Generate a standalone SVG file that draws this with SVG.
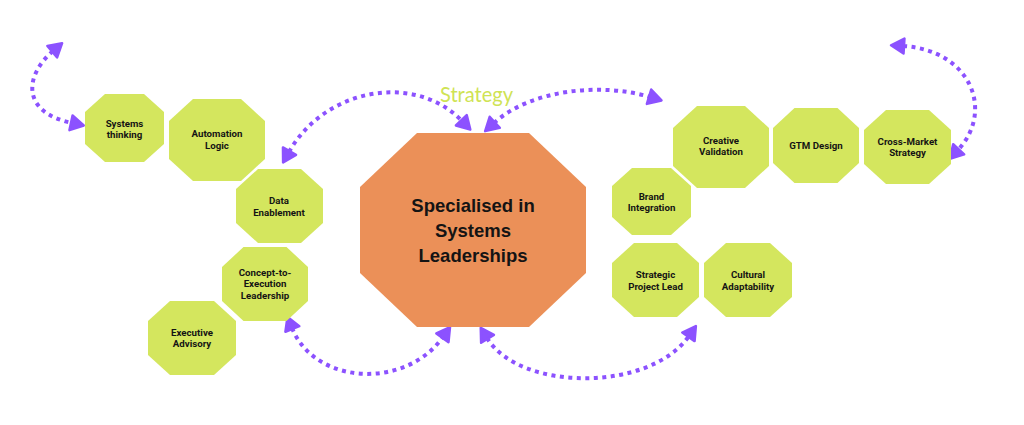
<svg xmlns="http://www.w3.org/2000/svg" width="1024" height="425" viewBox="0 0 1024 425">
  <style>
    .oct { fill: #d4e65e; }
    .core { fill: #eb9058; }
    .lbl { font-family: Roboto, "Liberation Sans", Arial, sans-serif; font-weight: bold; font-size: 9.7px; fill: #141414; text-anchor: middle; }
    .big { font-family: "Liberation Sans", Arial, sans-serif; font-weight: bold; font-size: 18.5px; fill: #141414; text-anchor: middle; }
    .title { font-family: "Lato", "Open Sans", sans-serif; font-weight: 400; font-size: 21px; fill: #cfe354; }
    .link { fill: none; stroke: #8c52ff; stroke-width: 4; stroke-dasharray: 4 4.5; marker-start: url(#ah); marker-end: url(#ah); }
  </style>
  <defs>
    <marker id="ah" viewBox="-2 -2 18 19" refX="1" refY="7.5" markerWidth="18" markerHeight="19" markerUnits="userSpaceOnUse" orient="auto-start-reverse">
      <path d="M0,0 L13,7.5 L0,15 Z" fill="#8c52ff" stroke="#8c52ff" stroke-width="2.5" stroke-linejoin="round"/>
    </marker>
  </defs>
  <rect width="1024" height="425" fill="#ffffff"/>

  <g id="connectors">
    <path class="link" d="M53,51 C25,75 20,112 72,123"/>
    <path class="link" d="M289,152 C325,88 415,72 462,121"/>
    <path class="link" d="M494,123 C530,90 600,82 650,97"/>
    <path class="link" d="M903,46 C970,50 995,110 958,150"/>
    <path class="link" d="M292,328 C315,385 405,390 443,337"/>
    <path class="link" d="M487,338 C520,392 650,392 689,336"/>
  </g>

  <text id="strategy" class="title" x="440" y="102" textLength="73" lengthAdjust="spacingAndGlyphs">Strategy</text>

  <g id="systems-thinking">
    <polygon class="oct" points="105,94 144,94 164,112 164,144 144,162 105,162 85,144 85,112"/>
    <text class="lbl" x="124.5" y="126.5">Systems</text>
    <text class="lbl" x="124.5" y="137.5">thinking</text>
  </g>
  <g id="automation-logic">
    <polygon class="oct" points="193,99 241,99 265,121 265,159 241,181 193,181 169,159 169,121"/>
    <text class="lbl" x="217" y="136.5">Automation</text>
    <text class="lbl" x="217" y="148.5">Logic</text>
  </g>
  <g id="data-enablement">
    <polygon class="oct" points="258,169 301,169 323,189 323,223 301,243 258,243 236,223 236,189"/>
    <text class="lbl" x="279" y="203.5">Data</text>
    <text class="lbl" x="279" y="215.5">Enablement</text>
  </g>
  <g id="concept-to-execution">
    <polygon class="oct" points="243.5,247 286.5,247 308,267 308,301 286.5,321 243.5,321 222,301 222,267"/>
    <text class="lbl" x="265" y="275.5">Concept-to-</text>
    <text class="lbl" x="265" y="287">Execution</text>
    <text class="lbl" x="265" y="298.5">Leadership</text>
  </g>
  <g id="executive-advisory">
    <polygon class="oct" points="170,301 214,301 236,321 236,355 214,375 170,375 148,355 148,321"/>
    <text class="lbl" x="192" y="335.5">Executive</text>
    <text class="lbl" x="192" y="346.5">Advisory</text>
  </g>
  <g id="systems-leadership">
    <polygon class="core" points="417,133 529,133 586,187 586,273 529,327 417,327 360,273 360,187"/>
    <text class="big" x="473" y="212">Specialised in</text>
    <text class="big" x="473" y="237">Systems</text>
    <text class="big" x="473" y="262">Leaderships</text>
  </g>
  <g id="creative-validation">
    <polygon class="oct" points="697,106 745,106 769,128 769,166 745,188 697,188 673,166 673,128"/>
    <text class="lbl" x="721" y="143.5">Creative</text>
    <text class="lbl" x="721" y="154.5">Validation</text>
  </g>
  <g id="brand-integration">
    <polygon class="oct" points="632,168 671,168 691,186 691,217 671,235 632,235 612,217 612,186"/>
    <text class="lbl" x="651.5" y="199.5">Brand</text>
    <text class="lbl" x="651.5" y="210.5">Integration</text>
  </g>
  <g id="strategic-project-lead">
    <polygon class="oct" points="634,243 677,243 699,263 699,297 677,317 634,317 612,297 612,263"/>
    <text class="lbl" x="655.5" y="277.5">Strategic</text>
    <text class="lbl" x="655.5" y="289.5">Project Lead</text>
  </g>
  <g id="cultural-adaptability">
    <polygon class="oct" points="726,243 770,243 792,263 792,297 770,317 726,317 704,297 704,263"/>
    <text class="lbl" x="748" y="277.5">Cultural</text>
    <text class="lbl" x="748" y="289.5">Adaptability</text>
  </g>
  <g id="gtm-design">
    <polygon class="oct" points="794.5,108 837.5,108 859,128 859,163 837.5,183 794.5,183 773,163 773,128"/>
    <text class="lbl" x="816" y="148.5">GTM Design</text>
  </g>
  <g id="cross-market-strategy">
    <polygon class="oct" points="886,110 929,110 951,130 951,164 929,184 886,184 864,164 864,130"/>
    <text class="lbl" x="907.5" y="144.5">Cross-Market</text>
    <text class="lbl" x="907.5" y="155.5">Strategy</text>
  </g>
</svg>
